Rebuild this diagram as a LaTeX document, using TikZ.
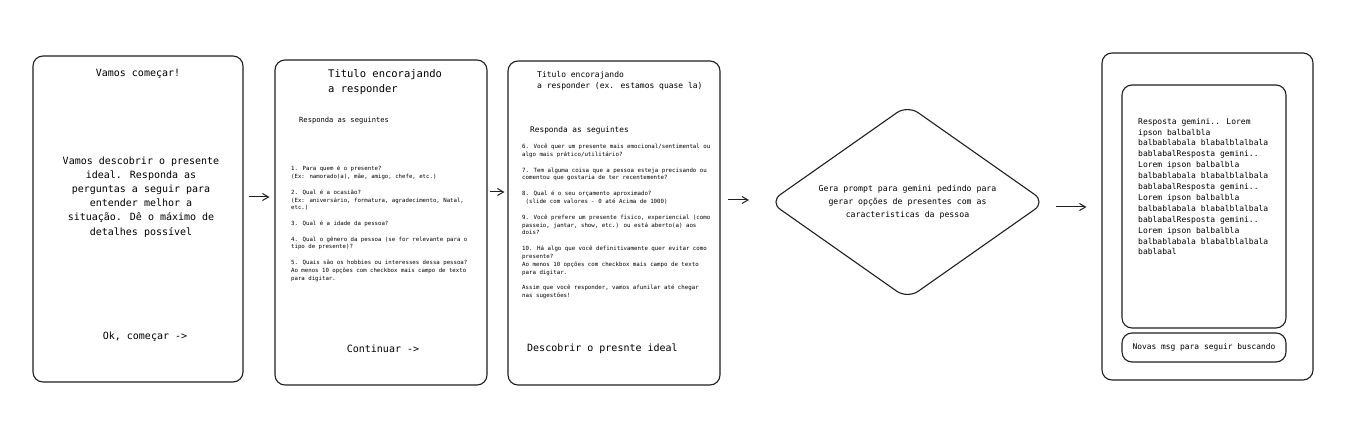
\documentclass[tikz,border=0pt]{standalone}
\usepackage{fontspec}
\setmainfont{DejaVu Sans Mono}
\usetikzlibrary{arrows.meta, shapes.geometric, calc}
\newcommand{\tam}[2]{\fontsize{#1}{#2}\selectfont}

\begin{document}
\begin{tikzpicture}[x=1pt, y=-1pt,
        tela/.style={draw=black!88, line width=1.1pt, rounded corners=10pt, inner sep=0pt},
        seta/.style={draw=black!88, line width=1pt, -{Straight Barb[length=6pt,width=7pt]}},
        txt/.style={inner sep=0pt, align=left, anchor=north west}]
        \useasboundingbox (0,0) rectangle (1366,430);

        \node[tela, minimum width=210pt, minimum height=326pt] (inicio) at (138,219) {};
        \node[inner sep=0pt, anchor=base, font=\tam{10}{12}] (tituloA) at (138,77) {Vamos começar!};
        \node[inner sep=0pt, align=center, anchor=north, font=\tam{10}{14.2}] (intro) at (141,156.4)
            {Vamos descobrir o presente\\ideal. Responda as\\perguntas a seguir para\\entender melhor a\\situação. Dê o máximo de\\detalhes possível};
        \node[inner sep=0pt, anchor=base, font=\tam{10}{12}] (ok) at (145,340) {Ok, começar ->};

        \node[tela, minimum width=212pt, minimum height=325pt] (perg1) at (381,222.5) {};
        \node[txt, font=\tam{10.5}{15.4}] (tituloB) at (328,69.3) {Titulo encorajando\\a responder};
        \node[inner sep=0pt, anchor=base west, font=\tam{7.1}{9}] (respB) at (299,123) {Responda as seguintes};
        \node[txt, font=\tam{5.7}{7.8}] (lista1) at (291,166.1)
            {1. Para quem é o presente?\\(Ex: namorado(a), mãe, amigo, chefe, etc.)\\[7.8pt]
             2. Qual é a ocasião?\\(Ex: aniversário, formatura, agradecimento, Natal,\\etc.)\\[7.8pt]
             3. Qual é a idade da pessoa?\\[7.8pt]
             4. Qual o gênero da pessoa (se for relevante para o\\tipo de presente)?\\[7.8pt]
             5. Quais são os hobbies ou interesses dessa pessoa?\\Ao menos 10 opções com checkbox mais campo de texto\\para digitar.};
        \node[inner sep=0pt, anchor=base, font=\tam{10}{12}] (cont) at (383,353) {Continuar ->};

        \node[tela, minimum width=212pt, minimum height=324pt] (perg2) at (614,223) {};
        \node[txt, font=\tam{8}{10.7}] (tituloC) at (537,71.2) {Titulo encorajando\\a responder (ex. estamos quase la)};
        \node[inner sep=0pt, anchor=base west, font=\tam{7.8}{9}] (respC) at (530,132.7) {Responda as seguintes};
        \node[txt, font=\tam{5.75}{7.86}] (lista2) at (522,143.7)
            {6. Você quer um presente mais emocional/sentimental ou\\algo mais prático/utilitário?\\[7.86pt]
             7. Tem alguma coisa que a pessoa esteja precisando ou\\comentou que gostaria de ter recentemente?\\[7.86pt]
             8. Qual é o seu orçamento aproximado?\\\hphantom{0}(slide com valores - 0 até Acima de 1000)\\[7.86pt]
             9. Você prefere um presente físico, experiencial (como\\passeio, jantar, show, etc.) ou está aberto(a) aos\\dois?\\[7.86pt]
             10. Há algo que você definitivamente quer evitar como\\presente?\\Ao menos 10 opções com checkbox mais campo de texto\\para digitar.\\[7.86pt]
             Assim que você responder, vamos afunilar até chegar\\nas sugestões!};
        \node[inner sep=0pt, anchor=base west, font=\tam{10}{12}] (descobrir) at (527,352) {Descobrir o presnte ideal};

        \node[diamond, draw=black!88, line width=1.1pt, rounded corners=13pt, aspect=1.44, inner sep=0pt,
              minimum width=276pt, minimum height=194pt, align=center, font=\tam{8.2}{13.2}] (prompt) at (907.5,202)
            {Gera prompt para gemini pedindo para\\gerar opções de presentes com as\\caracteristicas da pessoa};

        \node[tela, minimum width=211pt, minimum height=327pt] (resultado) at (1207.5,216.5) {};
        \node[tela, minimum width=164pt, minimum height=243pt] (resposta) at (1204,206.5) {};
        \node[txt, font=\tam{8}{10.9}] (gemini) at (1138,117.9)
            {Resposta gemini.. Lorem\\ipson balbalbla\\balbablabala blabalblalbala\\bablabalResposta gemini..\\
             Lorem ipson balbalbla\\balbablabala blabalblalbala\\bablabalResposta gemini..\\
             Lorem ipson balbalbla\\balbablabala blabalblalbala\\bablabalResposta gemini..\\
             Lorem ipson balbalbla\\balbablabala blabalblalbala\\bablabal};
        \node[tela, minimum width=164pt, minimum height=29pt, font=\tam{7.9}{10}] (novas) at (1204,347.5) {Novas msg para seguir buscando};

        \draw[seta, shorten <=5pt, shorten >=5pt] (inicio.east |- 0,197) -- (perg1.west |- 0,197);
        \draw[seta, shorten <=2pt, shorten >=3pt] (perg1.east |- 0,192) -- (perg2.west |- 0,192);
        \draw[seta, shorten <=7pt, shorten >=20pt] (perg2.east |- 0,200) -- (prompt.west |- 0,200);
        \draw[seta, shorten <=10pt, shorten >=15pt] (prompt.east |- 0,207) -- (resultado.west |- 0,207);
    \end{tikzpicture}
\end{document}
